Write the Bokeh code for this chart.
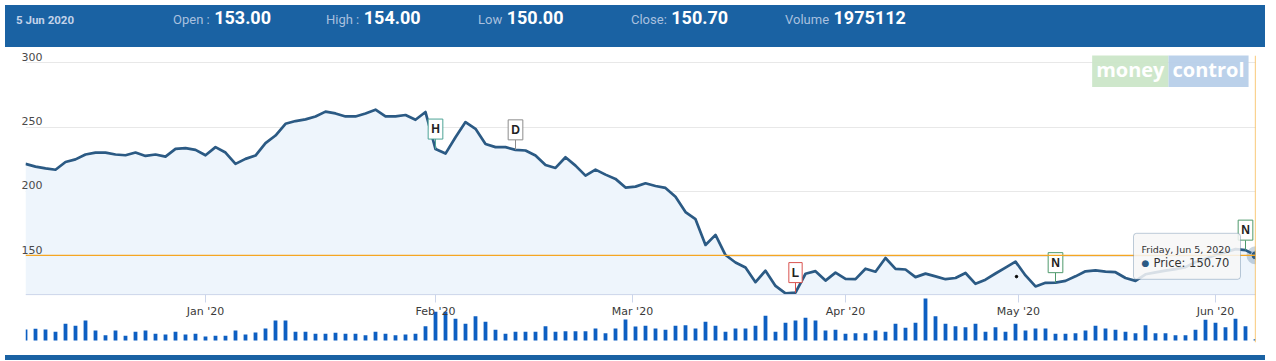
from bokeh.plotting import figure
from bokeh.models import (Range1d, FixedTicker, Span, Label, BoxAnnotation, Div,
                          ColumnDataSource)
from bokeh.layouts import column
from bokeh.core.properties import value
from bokeh.embed import file_html
from bokeh.resources import INLINE

# ---------------- data ----------------
price = [221.5, 219.4, 218.0, 217.0, 223.0, 225.0, 228.8, 230.3, 230.3, 228.8,
         228.2, 230.3, 227.7, 228.8, 227.2, 233.2, 233.7, 232.4, 228.2, 234.5,
         230.3, 221.5, 225.4, 228.0, 237.6, 243.5, 252.6, 254.7, 256.0, 258.3,
         262.0, 260.6, 258.3, 258.3, 260.6, 263.5, 258.4, 258.4, 259.4, 255.7,
         261.7, 233.0, 229.5, 242.2, 253.9, 248.7, 237.0, 234.5, 234.5, 232.4,
         231.9, 228.0, 220.7, 218.4, 226.7, 220.2, 212.4, 217.1, 213.2, 209.9,
         203.2, 203.9, 206.5, 204.4, 202.9, 196.1, 184.2, 178.7, 158.7, 166.5,
         150.9, 145.1, 141.2, 129.9, 138.8, 127.0, 121.2, 121.8, 136.4, 138.4,
         131.1, 137.3, 132.4, 132.2, 140.3, 138.0, 148.6, 140.2, 139.7, 133.8,
         136.5, 134.4, 132.2, 133.1, 137.0, 128.6, 131.8, 136.6, 141.2, 145.8,
         135.1, 126.6, 129.4, 129.5, 130.9, 134.4, 138.3, 139.0, 138.0, 137.6,
         133.1, 130.9, 136.0, 137.5, 138.8, 140.0, 141.5, 145.5, 148.0, 151.0,
         153.0, 155.5, 154.7, 150.7]

volume = [11, 11.7, 11, 8.7, 16.7, 14.7, 20, 10, 5.3, 10,
          4.7, 8.7, 10, 6.7, 6, 8.7, 6, 6.7, 4, 4.7,
          4.7, 10, 6, 8, 12, 20, 20, 8.7, 8.7, 6.7,
          6.7, 7.7, 6.7, 6.7, 5.3, 8.7, 6.7, 5.3, 6, 6.7,
          14.3, 28.7, 28.7, 21.7, 16.7, 24.3, 18.7, 10.7, 6.7, 8.7,
          8.7, 8.7, 14.3, 8.7, 9.3, 9.3, 9.3, 12, 7.3, 12,
          21, 14, 14.7, 12, 10.7, 14.7, 15.3, 12, 18.7, 14.7,
          8.7, 12, 12, 14.7, 24.7, 8.7, 17.7, 20, 22.7, 20,
          10, 10.7, 6.7, 7.3, 7.3, 10, 8.7, 16.7, 12.7, 17.7,
          42, 24.3, 16.7, 14.3, 13.3, 16.7, 8.7, 13.3, 8.7, 16.7,
          10, 12, 12, 6.7, 6.7, 7.3, 10, 14.7, 12, 10.7,
          8.7, 7.3, 15.3, 7.3, 7.3, 5.3, 5.3, 10.7, 20.7, 17.7,
          13.3, 21.7, 14.3, 1.3]

day = list(range(len(price)))  # trading-day ordinal

month_tick_index = [18, 41, 60.7, 82, 99.3, 119]
month_tick_labels = ["Jan '20", "Feb '20", "Mar '20", "Apr '20", "May '20", "Jun '20"]
price_ticks = [150, 200, 250, 300]

flag_index = [41, 49, 77, 103, 122]
flag_text = ["H", "D", "L", "N", "N"]

event_index = [99.1]
event_price = [134.2]

header_date = "5 Jun 2020"
header_items = [("Open :", "153.00"), ("High :", "154.00"), ("Low", "150.00"),
                ("Close:", "150.70"), ("Volume", "1975112")]
tooltip_date = "Friday, Jun 5, 2020"
tooltip_value = "Price: 150.70"

# ---------------- style / layout ----------------
BLUE = "#1a62a3"
LINE = "#2b5a84"
ORANGE = "#f5a623"
FILL = "#eef5fc"
BAR = "#0d5fc2"
flag_colors = ["#4da396", "#8c8c8c", "#d9534f", "#4f9a6c", "#4f9a6c"]

W = 1260
PX = 1.2907            # pixels per price unit
FRAME_H = 287
Y_TOP = 305.5
Y_BOTTOM = Y_TOP - FRAME_H / PX
PANE_BOTTOM = 120.25    # bottom of the price pane
X_PX = 10.0            # pixels per trading day

header_html = ['<div style="position:relative;width:%dpx;height:42px;'
               'font-family:Roboto,sans-serif;font-size:18px;">' % W]
header_html.append('<div style="position:absolute;left:11px;top:-1px;line-height:28px;'
                   'white-space:nowrap;"><span style="font-size:11.5px;font-weight:bold;'
                   'color:#c2d2e9;">%s</span></div>' % header_date)
lefts = [168, 321, 473, 626, 780]
for (lab, val), lx in zip(header_items, lefts):
    header_html.append(
        '<div style="position:absolute;left:%dpx;top:-1px;line-height:28px;white-space:nowrap;">'
        '<span style="font-size:13px;color:#a9c0df;">%s</span> '
        '<span style="font-size:18px;font-weight:bold;color:#ffffff;">%s</span></div>'
        % (lx, lab, val))
header_html.append('</div>')
header = Div(text="".join(header_html), width=W, height=42,
             styles={"background-color": BLUE, "overflow": "hidden"})

p = figure(width=W, height=298, x_range=Range1d(day[0], day[-1]),
           y_range=Range1d(Y_BOTTOM, Y_TOP), output_backend="svg",
           toolbar_location=None, min_border_left=25, min_border_right=5,
           min_border_top=3, min_border_bottom=8, background_fill_color="white",
           border_fill_color="white", outline_line_color=None)

p.extra_y_ranges = {"vol": Range1d(-2, FRAME_H - 2)}

# axes
p.xaxis.ticker = FixedTicker(ticks=month_tick_index)
p.xaxis.major_label_overrides = dict(zip(month_tick_index, month_tick_labels))
p.xaxis.axis_line_color = None
p.xaxis.major_tick_line_color = "#ccd6eb"
p.xaxis.minor_tick_line_color = None
p.xaxis.major_tick_in = 48
p.xaxis.major_tick_out = -40
p.xaxis.minor_tick_out = 0
p.xaxis.major_label_standoff = -38
p.xaxis.major_label_text_font = "DejaVu Sans"
p.xaxis.major_label_text_font_size = "11px"
p.xaxis.major_label_text_color = "#3a3a3a"

label_ticks = [t + 5 for t in price_ticks]
p.yaxis.ticker = FixedTicker(ticks=label_ticks)
p.yaxis.major_label_overrides = {lt: str(t) for lt, t in zip(label_ticks, price_ticks)}
p.yaxis.axis_line_color = None
p.yaxis.major_tick_line_color = None
p.yaxis.minor_tick_line_color = None
p.yaxis.major_tick_out = 0
p.yaxis.minor_tick_out = 0
p.yaxis.major_label_standoff = -17
p.yaxis.major_label_text_font = "DejaVu Sans"
p.yaxis.major_label_text_font_size = "11px"
p.yaxis.major_label_text_color = "#4a4a4a"

p.xgrid.visible = False
p.ygrid.ticker = FixedTicker(ticks=price_ticks)
p.ygrid.grid_line_color = "#e8e8e8"

# volume
p.vbar(x=day, top=volume, bottom=0, width=0.38, y_range_name="vol",
       fill_color=BAR, line_color=None)

# price area + line
p.varea(x=day, y1=PANE_BOTTOM, y2=price, fill_color=FILL)
p.add_layout(Span(location=PANE_BOTTOM, dimension="width", line_color="#ccd6eb",
                  line_width=1))
p.line(day, price, line_color=LINE, line_width=2.7, line_join="round")

# crosshair
p.add_layout(Span(location=price[-1], dimension="width", line_color=ORANGE, line_width=1.2))
p.add_layout(Span(location=day[-1], dimension="height", line_color=ORANGE, line_width=1.2))

# flags
gap = 10 / PX
fsrc = ColumnDataSource(dict(
    x=flag_index,
    y0=[price[i] for i in flag_index],
    y1=[price[i] + gap for i in flag_index],
    t=flag_text, c=flag_colors))
p.segment(x0="x", y0="y0", x1="x", y1="y1", line_color="c", line_width=1, source=fsrc)
p.text(x="x", y="y1", text="t", source=fsrc, anchor="bottom_center",
       text_font=value("Liberation Sans"), text_font_style="bold",
       text_font_size="12px", text_color="#222222",
       background_fill_color="white", border_line_color="c", padding=3)

# small event dot
p.scatter(event_index, event_price, size=2.5, color="black")

# hovered point
p.scatter([day[-1]], [price[-1]], size=18, fill_color=LINE, fill_alpha=0.25, line_color=None)
p.scatter([day[-1]], [price[-1]], marker="circle_cross", size=9, fill_color=LINE,
          line_color="#c9d6e3", line_width=1)

# tooltip
lx, lp = day[-1], price[-1]
p.add_layout(BoxAnnotation(left=lx - 122 / X_PX, right=lx - 15 / X_PX,
                           top=lp + 22 / PX, bottom=lp - 24 / PX,
                           fill_color="#f7f7f7", fill_alpha=0.85,
                           line_color=LINE, line_width=1, border_radius=3))
p.add_layout(Label(x=lx - 114 / X_PX, y=lp + 6 / PX, text=tooltip_date,
                   text_font="DejaVu Sans", text_font_size="9.5px",
                   text_color="#333333", text_baseline="middle", text_align="left"))
p.add_layout(Label(x=lx - 110 / X_PX, y=lp - 8 / PX, text="\u25cf",
                   text_font="DejaVu Sans", text_font_size="9px",
                   text_color=LINE, text_baseline="middle", text_align="center"))
p.add_layout(Label(x=lx - 102 / X_PX, y=lp - 8 / PX, text=tooltip_value,
                   text_font="DejaVu Sans", text_font_size="11.5px",
                   text_color="#333333", text_baseline="middle", text_align="left"))

# watermark
p.add_layout(Label(x=1143, y=273, x_units="screen", y_units="screen", text="money",
                   text_font="Open Sans", text_font_style="bold", text_font_size="20px",
                   text_color="white", text_align="right", text_baseline="middle",
                   background_fill_color="#cbe6c8", background_fill_alpha=0.95, padding=4))
p.add_layout(Label(x=1143, y=273, x_units="screen", y_units="screen", text="control",
                   text_font="Open Sans", text_font_style="bold", text_font_size="20px",
                   text_color="white", text_align="left", text_baseline="middle",
                   background_fill_color="#b7cfe9", background_fill_alpha=0.95, padding=4))

footer = Div(text="", width=W, height=5, styles={"background-color": BLUE})

layout = column(header, p, footer, spacing=0)
open("out.html", "w").write(file_html(layout, INLINE))
